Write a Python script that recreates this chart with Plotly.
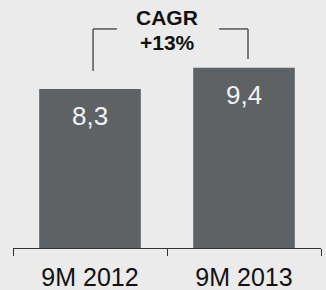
import plotly.graph_objects as go

categories = ["9M 2012", "9M 2013"]
values = [8.3, 9.4]
value_labels = ["8,3", "9,4"]
cagr_lines = ["CAGR", "+13%"]

BG = "#ebebeb"
BAR = "#5f6265"

x = list(range(len(categories)))
fig = go.Figure()
fig.add_trace(go.Bar(x=x, y=values, width=0.66, marker=dict(color=BAR, line=dict(width=0)),
                     hoverinfo="skip"))

for xi, v, lab in zip(x, values, value_labels):
    fig.add_annotation(x=xi, y=v, text=lab, showarrow=False, yanchor="middle", yshift=-27,
                       font=dict(family="Liberation Sans, Arial", size=26, color="#f2f2f2"))

for i, t in enumerate(cagr_lines):
    fig.add_annotation(x=0.5, y=1.0, xref="x", yref="paper", text="<b>%s</b>" % t,
                       showarrow=False, yanchor="middle", yshift=-17 - 25 * i,
                       font=dict(family="Liberation Sans, Arial", size=21, color="#111111"))

line = dict(color="#555555", width=1.5)
# bracket left
fig.add_shape(type="line", x0=0.02, x1=0.175, y0=11.43, y1=11.43, line=line)
fig.add_shape(type="line", x0=0.02, x1=0.02, y0=11.43, y1=9.24, line=line)
# bracket right
fig.add_shape(type="line", x0=0.838, x1=1.026, y0=11.43, y1=11.43, line=line)
fig.add_shape(type="line", x0=1.026, x1=1.026, y0=11.43, y1=9.86, line=line)

fig.update_layout(
    width=326, height=290,
    margin=dict(l=13, r=5, t=0, b=42, autoexpand=False),
    paper_bgcolor=BG, plot_bgcolor=BG,
    showlegend=False,
    xaxis=dict(range=[-0.5, 1.5], tickvals=x, ticktext=categories, ticks="",
               showgrid=False, zeroline=False, showline=True, linecolor="#333333", linewidth=1,
               ticklabelstandoff=7, automargin=False,
               tickfont=dict(family="Liberation Sans, Arial", size=25, color="#111111"),
               minor=dict(tickvals=[-0.5, 0.5, 1.5], ticks="outside", ticklen=7,
                          tickcolor="#333333", tickwidth=1, showgrid=False)),
    yaxis=dict(range=[0, 12.94], visible=False, showgrid=False, zeroline=False, automargin=False),
)

fig.write_html("out.html", config={"displayModeBar": False, "staticPlot": True},
               post_script="document.body.style.margin='0';document.body.style.overflow='hidden';")
